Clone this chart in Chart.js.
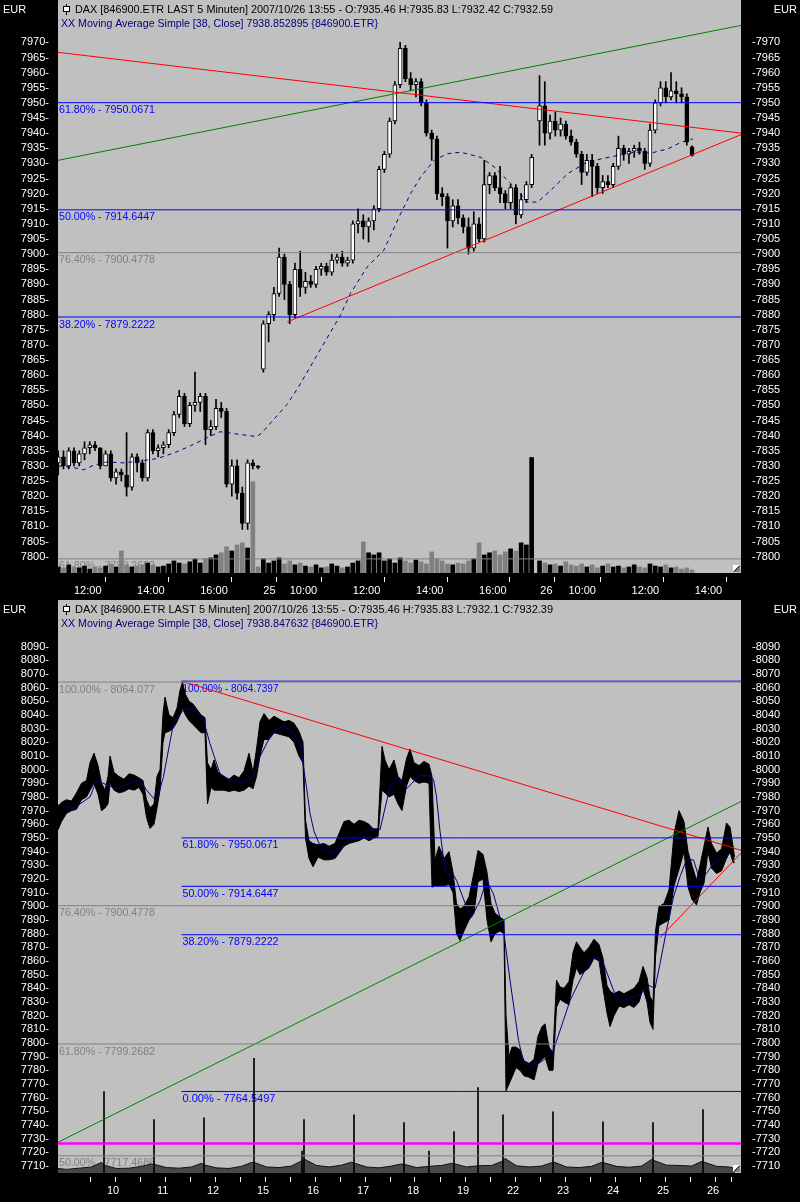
<!DOCTYPE html>
<html>
<head>
<meta charset="utf-8">
<title>DAX 5 Minuten</title>
<script src="https://cdn.jsdelivr.net/npm/chart.js@4.4.1/dist/chart.umd.min.js"></script>
<style>
  html, body { margin: 0; padding: 0; background: #000; }
  canvas { display: block; }
</style>
</head>
<body>
<canvas id="chartTop" width="800" height="600"></canvas>
<canvas id="chartBottom" width="800" height="602"></canvas>
<script>
'use strict'

// ===== Oberes Fenster: 24.10. - 26.10.2007, Kerzen zu je 10 Minuten =====
// x = 5-Minuten-Slot, 0 = 24.10. 12:00
var topSlot = [
  -6, -4, -2, 0, 2, 4, 6, 8, 10, 12, 14, 16, 18, 20, 22, 24, 26, 28, 30, 32, 34, 36, 38, 40, 42, 44, 46, 48, 50, 52, 54, 56, 58, 60, 62, 64, 66, 68, 70,
  72, 74, 76, 78, 80, 82, 84, 86, 88, 90, 92, 94, 96, 98, 100, 102, 104, 106, 108, 110, 112, 114, 116, 118, 120, 122, 124, 126, 128, 130, 132, 134, 136, 138, 140, 142, 144, 146, 148, 150, 152, 154, 156, 158, 160, 162, 164, 166, 168, 170, 172, 174,
  177, 179, 181, 183, 185, 187, 189, 191, 193, 195, 197, 199, 201, 203, 205, 207, 209, 211, 213, 215, 217, 219, 221, 223, 225, 227, 229, 231, 233, 235
]
var topOpen = [
  7831, 7833, 7830, 7835, 7831, 7834, 7836, 7837, 7836, 7830, 7834, 7826, 7828, 7827, 7823, 7833, 7831, 7826, 7841, 7835, 7836, 7837, 7841, 7847, 7853, 7844, 7850, 7851, 7853, 7842, 7843, 7849, 7848, 7824, 7830, 7821, 7811, 7831, 7830,
  7862, 7877, 7880, 7887, 7899, 7890, 7880, 7895, 7889, 7891, 7890, 7895, 7896, 7894, 7898, 7899, 7897, 7898, 7910, 7911, 7909, 7911, 7915, 7928, 7933, 7944, 7956, 7968, 7958, 7956, 7957, 7950, 7940, 7938, 7920, 7919, 7911, 7916, 7912, 7909, 7902, 7910, 7905, 7923, 7926, 7922, 7920, 7917, 7922, 7913, 7918, 7923,
  7944, 7949, 7940, 7944, 7941, 7943, 7939, 7937, 7933, 7927, 7931, 7929, 7922, 7924, 7923, 7929, 7935, 7933, 7934, 7935, 7934, 7930, 7941, 7950, 7955, 7952, 7954, 7953, 7952, 7935.46
]
var topHigh = [
  7835, 7835, 7836, 7836, 7835, 7838, 7838, 7838, 7836, 7835, 7835, 7829, 7829, 7841, 7834, 7834, 7832, 7842, 7842, 7837, 7838, 7842, 7848, 7855, 7854, 7851, 7861, 7854, 7854, 7845, 7852, 7851, 7849, 7832, 7832, 7823, 7832, 7832, 7830,
  7878, 7881, 7889, 7902, 7900, 7891, 7897, 7901, 7894, 7893, 7896, 7897, 7897, 7900, 7900, 7901, 7899, 7911, 7915, 7913, 7912, 7916, 7929, 7934, 7945, 7957, 7970, 7969, 7960, 7958, 7958, 7951, 7941, 7939, 7922, 7920, 7918, 7918, 7913, 7912, 7914, 7912, 7931, 7927, 7927, 7929, 7921, 7923, 7923, 7920, 7924, 7933,
  7959, 7957, 7946, 7947, 7945, 7944, 7941, 7938, 7934, 7933, 7933, 7930, 7926, 7926, 7930, 7939, 7936, 7935, 7936, 7937, 7935, 7943, 7951, 7957, 7957, 7960, 7957, 7955, 7953, 7935.83
]
var topLow = [
  7827, 7829, 7829, 7830, 7830, 7832, 7834, 7835, 7829, 7830, 7825, 7824, 7825, 7820, 7822, 7828, 7825, 7825, 7834, 7833, 7834, 7836, 7840, 7846, 7843, 7843, 7848, 7848, 7837, 7840, 7842, 7846, 7823, 7820, 7819, 7809, 7809, 7829, 7829,
  7861, 7871, 7878, 7886, 7885, 7877, 7879, 7886, 7887, 7889, 7889, 7893, 7893, 7893, 7897, 7896, 7896, 7897, 7907, 7905, 7904, 7908, 7914, 7927, 7932, 7943, 7955, 7957, 7954, 7952, 7949, 7939, 7931, 7918, 7916, 7902, 7909, 7910, 7907, 7900, 7901, 7904, 7904, 7920, 7921, 7917, 7915, 7915, 7910, 7912, 7917, 7922,
  7936, 7936, 7938, 7939, 7939, 7938, 7936, 7932, 7923, 7926, 7919, 7920, 7920, 7922, 7922, 7928, 7931, 7930, 7932, 7933, 7928, 7929, 7940, 7949, 7950, 7951, 7950, 7950, 7936, 7932.42
]
var topClose = [
  7833, 7830, 7835, 7831, 7834, 7836, 7837, 7836, 7830, 7834, 7826, 7828, 7827, 7823, 7833, 7831, 7826, 7841, 7835, 7836, 7837, 7841, 7847, 7853, 7844, 7850, 7851, 7853, 7842, 7843, 7849, 7848, 7824, 7830, 7821, 7811, 7831, 7830, 7829.5,
  7877, 7880, 7887, 7899, 7890, 7880, 7895, 7889, 7891, 7890, 7895, 7896, 7894, 7898, 7899, 7897, 7898, 7910, 7911, 7909, 7911, 7915, 7928, 7933, 7944, 7956, 7968, 7958, 7956, 7957, 7950, 7940, 7938, 7920, 7919, 7911, 7916, 7912, 7909, 7902, 7910, 7905, 7923, 7926, 7922, 7920, 7917, 7922, 7913, 7918, 7923, 7932,
  7949, 7940, 7944, 7941, 7943, 7939, 7937, 7933, 7927, 7931, 7929, 7922, 7924, 7923, 7929, 7935, 7933, 7934, 7935, 7934, 7930, 7941, 7950, 7955, 7952, 7954, 7953, 7952, 7937, 7932.59
]
// Volumen (Tsd.)
var topVolume = [
  2, 1.7, 2.7, 2, 1.7, 2.3, 1.3, 2, 1.7, 2.3, 3, 2, 7.3, 2.7, 2, 2.3, 2.7, 3.3, 2.7, 2, 2.3, 3, 4, 3.3, 3, 3.7, 4.7, 3.3, 4.7, 5, 6, 6.7, 8.7, 7.3, 9.3, 10, 8.3, 30.3, 2,
  4.7, 3.3, 4, 5, 3, 4, 2.7, 3.3, 2.3, 2, 2.7, 1.7, 2, 3, 2.3, 1.7, 2, 3.3, 4, 10.3, 6.7, 6, 6.7, 4, 4.7, 3.3, 5, 4, 3.3, 4.3, 3.7, 3, 7, 4.7, 4, 3, 2.7, 3.3, 3, 4, 4.7, 10, 6, 6.7, 7.3, 6, 7, 8, 7.3, 10, 9.3, 38.3,
  4, 3.3, 2.7, 3, 2.3, 3.7, 2.7, 2.3, 3, 2, 2.7, 1.7, 2.3, 3, 2, 2.3, 1.7, 2, 2.7, 2, 1.7, 3, 2.3, 2, 2.7, 1.7, 2, 1.3, 1.7, 1
]
// Moving Average Simple [38, Close]
var topMaSlot = [-6, -0.3, 3.6, 7.4, 12.4, 18.8, 25, 31.5, 37.8, 44.2, 50.5, 55.6, 63.2, 69.6, 71.5, 76, 81, 84.8, 101.3, 105.1, 111.5, 117.8, 124.2, 128, 131.8, 136.9, 142, 147, 154.7, 159.8, 162.3, 167.4, 172.5, 176.3, 181.3, 187.7, 194, 200.4, 206.7, 213.1, 219.4, 225.8, 230.9, 235.3]
var topMa = [7830, 7829.5, 7828.7, 7830.2, 7831.3, 7831, 7831.6, 7832.4, 7834.2, 7836.6, 7839.3, 7841.3, 7840.4, 7839.7, 7841, 7845.4, 7850.3, 7855.3, 7879.8, 7887, 7895.8, 7901.3, 7913.4, 7920, 7925.5, 7931, 7933.2, 7933.7, 7932, 7928.8, 7926.6, 7922.2, 7917.2, 7917.2, 7921.1, 7926.6, 7929.9, 7931.5, 7932.6, 7933.7, 7933.4, 7934.8, 7937, 7938.1]

var topXRange = [-6.08, 253.6]
var topYRange = [7794.6, 7984]
var topTickSlot = [0, 24, 48, 72, 82, 106, 130, 154, 177.3, 188, 212, 236]
var topTickLabel = ['12:00', '14:00', '16:00', '25', '10:00', '12:00', '14:00', '16:00', '26', '10:00', '12:00', '14:00']
var topPriceTicks = [7800, 7805, 7810, 7815, 7820, 7825, 7830, 7835, 7840, 7845, 7850, 7855, 7860, 7865, 7870, 7875, 7880, 7885, 7890, 7895, 7900, 7905, 7910, 7915, 7920, 7925, 7930, 7935, 7940, 7945, 7950, 7955, 7960, 7965, 7970]

// Fibonacci (aktuelle Welle blau, alte Welle grau)
var topFibBluePct = ['61.80%', '50.00%', '38.20%']
var topFibBlue = [7950.0671, 7914.6447, 7879.2222]
var topFibGrayPct = ['76.40%', '61.80%']
var topFibGray = [7900.4778, 7799.2682]
// Trendlinien [slot, Kurs]
var topRedUpper = [[-6.08, 7966.7], [253.6, 7940]]
var topRedLower = [[81.1, 7877.6], [253.6, 7939.5]]
var topGreen = [[-6.08, 7931], [253.6, 7975.6]]

// ===== Unteres Fenster: 09.10. - 26.10.2007 =====
// x = Handelstag, 0 = 10.10.
var botDay = [
  -0.92, -0.85, -0.75, -0.65, -0.55, -0.45, -0.35, -0.28, -0.20, -0.12, -0.05,
  0.02, 0.08, 0.12, 0.20, 0.30, 0.40, 0.50, 0.60, 0.70, 0.78, 0.85, 0.92,
  1.00, 1.06, 1.12, 1.18, 1.22, 1.30, 1.38, 1.46, 1.52, 1.57, 1.63, 1.70, 1.78, 1.86, 1.94,
  2.02, 2.07, 2.14, 2.20, 2.28, 2.40, 2.50, 2.60, 2.70, 2.80, 2.90, 2.98,
  3.05, 3.12, 3.20, 3.30, 3.40, 3.50, 3.60, 3.70, 3.80, 3.90, 3.98,
  4.03, 4.10, 4.18, 4.28, 4.40, 4.50, 4.62, 4.72, 4.80, 4.90,
  5.00, 5.10, 5.20, 5.30, 5.40, 5.48, 5.56, 5.62, 5.70, 5.80, 5.88, 5.96,
  6.05, 6.12, 6.20, 6.30, 6.40, 6.50, 6.56, 6.62, 6.70, 6.80, 6.90, 6.98,
  7.05, 7.12, 7.20, 7.30, 7.40, 7.48, 7.58, 7.66, 7.74, 7.82, 7.92, 8.00,
  8.04, 8.10, 8.16, 8.24, 8.32, 8.40, 8.50, 8.60, 8.68, 8.76, 8.82, 8.90, 8.98,
  9.05, 9.12, 9.20, 9.30, 9.38, 9.45, 9.52, 9.60, 9.70, 9.80, 9.90, 9.98,
  10.06, 10.12, 10.20, 10.30, 10.40, 10.50, 10.60, 10.70, 10.78, 10.86, 10.92, 10.98,
  11.03, 11.10, 11.20, 11.30, 11.40, 11.50, 11.60, 11.68, 11.76, 11.85, 11.92,
  12.00, 12.08, 12.15, 12.25, 12.35, 12.45, 12.52, 12.58, 12.61
]
var botHigh = [
  7973, 7976, 7978, 7977, 7983, 7990, 7992, 8005, 8012, 8003, 7990,
  7985, 7995, 8010, 7998, 7995, 7993, 7997, 7996, 7994, 7992, 7978, 7972,
  7975, 7995, 8000, 8041, 8053, 8040, 8038, 8045, 8058, 8064, 8055, 8050, 8048, 8044, 8040,
  8038, 8005, 8000, 8007, 7998, 7995, 7993, 7996, 7994, 7999, 8012, 7998,
  8015, 8035, 8041, 8036, 8039, 8037, 8035, 8036, 8034, 8028, 8020,
  7963, 7948, 7946, 7945, 7946, 7944, 7946, 7955, 7962, 7963,
  7960, 7963, 7962, 7960, 7956, 7957, 8017, 8007, 8000, 8007, 7995, 7992,
  8008, 8015, 8005, 8003, 8006, 8004, 7995, 7934, 7944, 7935, 7940, 7925,
  7902, 7898, 7900, 7907, 7925, 7941, 7938, 7925, 7902, 7895, 7892, 7890,
  7820, 7790, 7797, 7797, 7795, 7787, 7785, 7788, 7805, 7812, 7814, 7797, 7793,
  7846, 7841, 7840, 7845, 7866, 7874, 7870, 7866, 7870, 7876, 7872, 7862,
  7842, 7838, 7836, 7838, 7836, 7838, 7840, 7845, 7856, 7848, 7834, 7830,
  7882, 7900, 7902, 7912, 7953, 7970, 7962, 7940, 7930, 7919, 7930,
  7944, 7958, 7946, 7939, 7942, 7961, 7958, 7944, 7936
]
var botLow = [
  7956, 7962, 7968, 7970, 7971, 7978, 7980, 7985, 7990, 7982, 7970,
  7972, 7975, 7990, 7985, 7983, 7984, 7986, 7985, 7987, 7982, 7965, 7957,
  7960, 7972, 7985, 8020, 8027, 8028, 8030, 8035, 8040, 8045, 8040, 8036, 8033, 8030, 8027,
  8027, 7975, 7987, 7985, 7985, 7985, 7984, 7985, 7984, 7985, 7988, 7986,
  7995, 8010, 8022, 8022, 8027, 8026, 8025, 8024, 8020, 8010, 8005,
  7950, 7935, 7929, 7936, 7934, 7934, 7935, 7940, 7944, 7946,
  7947, 7948, 7950, 7948, 7950, 7951, 7985, 7983, 7980, 7982, 7975, 7970,
  7988, 7995, 7992, 7990, 7991, 7990, 7914, 7915, 7915, 7915, 7916, 7910,
  7880, 7875, 7882, 7890, 7895, 7918, 7920, 7890, 7874, 7880, 7882, 7880,
  7765, 7770, 7775, 7782, 7780, 7776, 7775, 7773, 7785, 7788, 7790, 7780, 7780,
  7826, 7832, 7830, 7828, 7846, 7855, 7850, 7852, 7855, 7862, 7860, 7840,
  7822, 7812, 7820, 7827, 7826, 7828, 7826, 7830, 7840, 7830, 7815, 7810,
  7863, 7886, 7888, 7890, 7915, 7927, 7940, 7914, 7905, 7901, 7910,
  7917, 7940, 7928, 7924, 7926, 7935, 7940, 7932, 7932
]
var botMaDay = [-0.92, -0.61, -0.28, -0.15, 0.05, 0.25, 0.45, 0.72, 0.85, 1.05, 1.19, 1.39, 1.59, 1.79, 1.99, 2.12, 2.32, 2.52, 2.79, 2.99, 3.12, 3.39, 3.59, 3.79, 3.92, 4.05, 4.12, 4.20, 4.30, 4.45, 4.59, 4.85, 5.12, 5.39, 5.52, 5.72, 5.92, 6.05, 6.32, 6.52, 6.59, 6.65, 6.72, 6.79, 6.85, 6.99, 7.05, 7.25, 7.35, 7.52, 7.65, 7.79, 7.99, 8.12, 8.29, 8.39, 8.59, 8.79, 8.99, 9.19, 9.32, 9.52, 9.72, 9.85, 9.99, 10.19, 10.32, 10.52, 10.72, 10.89, 11.02, 11.12, 11.25, 11.39, 11.52, 11.65, 11.79, 11.92, 12.05, 12.19, 12.32, 12.52]
var botMa = [7974, 7971.7, 7980, 7992, 7989, 7986, 7989, 7992.4, 7985, 7976.6, 7995, 8034, 8043.7, 8045, 8036, 8019, 7997, 7992, 7990, 7995, 8009.5, 8029, 8031.5, 8026.6, 8019, 7987, 7968, 7955, 7946, 7941, 7938.8, 7947.3, 7953.4, 7957, 7956, 7987.6, 7992.4, 7986, 7996, 7995, 7993, 7980, 7955, 7935, 7924, 7923, 7919, 7899.5, 7892, 7904, 7919, 7909, 7882.5, 7846, 7802, 7786, 7782.6, 7787.4, 7795, 7816.7, 7831, 7846, 7860.5, 7863, 7858, 7838.6, 7830, 7832.5, 7835, 7842.3, 7840, 7858, 7882.5, 7906.8, 7921.7, 7934, 7934, 7919, 7924, 7931.5, 7934, 7939]
// Volumen: Grundrauschen und Auktionsspitzen
var botVolDay = [-0.92, -0.75, -0.5, -0.25, -0.05, 0.02, 0.25, 0.5, 0.75, 0.95, 1.02, 1.25, 1.5, 1.75, 1.95, 2.02, 2.25, 2.5, 2.75, 2.95, 3.02, 3.25, 3.5, 3.75, 3.95, 4.02, 4.25, 4.5, 4.75, 4.95, 5.02, 5.25, 5.5, 5.75, 5.95, 6.02, 6.25, 6.5, 6.75, 6.95, 7.02, 7.25, 7.5, 7.75, 7.95, 8.02, 8.25, 8.5, 8.75, 8.95, 9.02, 9.25, 9.5, 9.75, 9.95, 10.02, 10.25, 10.5, 10.75, 10.95, 11.02, 11.25, 11.5, 11.75, 11.95, 12.02, 12.25, 12.5, 12.62]
var botVol = [1.5, 1.2, 1.6, 2, 3.5, 2.5, 1.5, 1.6, 2.2, 3, 2.8, 1.8, 1.6, 2, 3.2, 2.6, 1.7, 1.5, 2.2, 3.5, 3.4, 2, 1.8, 2.3, 4, 4.5, 2.5, 2, 2.6, 3.6, 3.2, 2, 1.7, 2.3, 3, 2.8, 1.8, 2.2, 2.5, 3.2, 3, 2, 2.4, 2.5, 3.8, 4.8, 2.4, 2, 2.3, 3.4, 3.5, 2, 1.8, 2.2, 3.5, 3.3, 2.2, 1.9, 2.3, 4.5, 4, 2.6, 2.5, 2.3, 3.8, 3.5, 2.2, 2, 1.5]
var botSpikeDay = [0, 1, 2, 3, 3.96, 4, 5, 6, 6.5, 7, 7.48, 7.98, 8.98, 9.98, 10.98, 11.98]
var botSpikeVol = [27, 17.7, 18.3, 38, 7.3, 17.7, 19.3, 16.7, 7.3, 13.7, 28.3, 19.3, 20.3, 17, 16.7, 21]

var botXRange = [-0.92, 12.74]
var botYRange = [7704.9, 8124.1]
var botTickDay = [-0.62, 0.06, 0.38, 1.06, 1.38, 2.06, 2.38, 3.06, 3.38, 4.06, 4.38, 5.06, 5.38, 6.06, 6.38, 7.06, 7.38, 8.06, 8.38, 9.06, 9.38, 10.06, 10.38, 11.06, 11.38, 12.06, 12.38]
var botTickLabel = ['', '10', '', '11', '', '12', '', '15', '', '16', '', '17', '', '18', '', '19', '', '22', '', '23', '', '24', '', '25', '', '26', '']
var botPriceTicks = [7710, 7720, 7730, 7740, 7750, 7760, 7770, 7780, 7790, 7800, 7810, 7820, 7830, 7840, 7850, 7860, 7870, 7880, 7890, 7900, 7910, 7920, 7930, 7940, 7950, 7960, 7970, 7980, 7990, 8000, 8010, 8020, 8030, 8040, 8050, 8060, 8070, 8080, 8090]

var botFibGrayPct = ['100.00%', '76.40%', '61.80%', '50.00%']
var botFibGray = [8064.077, 7900.4778, 7799.2682, 7717.4686]
var botFibBluePct = ['100.00%', '61.80%', '50.00%', '38.20%', '0.00%']
var botFibBlue = [8064.7397, 7950.0671, 7914.6447, 7879.2222, 7764.5497]
var botFibBlueStart = 1.55
var botSupport = 7726.5
var botRedUpper = [[1.55, 8064.7], [12.74, 7941]]
var botRedLower = [[11.12, 7877], [12.74, 7939]]
var botGreen = [[-0.92, 7727.4], [12.74, 7976.7]]

// ===== Helfer =====
var FONT = '"Liberation Sans", Arial, sans-serif'
Chart.defaults.font.family = FONT
Chart.defaults.font.size = 11
Chart.defaults.animation = false

function pts(xs, ys) {
  return xs.map(function (x, i) { return { x: x, y: ys[i] } })
}

function lineSet(points, color, width, dash, order, extra) {
  var ds = {
    type: 'line',
    order: order,
    data: points,
    borderColor: color,
    borderWidth: width,
    borderDash: dash || [],
    pointRadius: 0,
    tension: 0,
    fill: false
  }
  return Object.assign(ds, extra || {})
}

function segment(pair, color, width) {
  return lineSet(pts([pair[0][0], pair[1][0]], [pair[0][1], pair[1][1]]), color, width, null, 0)
}

function fibSets(values, from, to, color) {
  return values.map(function (v) {
    return lineSet(pts([from, to], [v, v]), color, 1, null, 0)
  })
}

function fibLabelItems(pct, values, from, color) {
  return values.map(function (v, i) {
    return { value: v, from: from, text: pct[i] + ' - ' + v, color: color }
  })
}

function candleSets(slot, open, high, low, close, vol) {
  var up = close.map(function (c, i) { return c >= open[i] })
  return [
    {
      type: 'bar', order: 3, grouped: false, barThickness: 1,
      backgroundColor: '#000',
      data: slot.map(function (s, i) { return { x: s, y: [low[i], high[i]] } })
    },
    {
      type: 'bar', order: 2, grouped: false, barThickness: 4, minBarLength: 1,
      borderWidth: 1, borderSkipped: false, borderColor: '#000',
      backgroundColor: up.map(function (u) { return u ? '#fff' : '#000' }),
      data: slot.map(function (s, i) { return { x: s, y: [open[i], close[i]] } })
    },
    {
      type: 'bar', order: 5, yAxisID: 'yv', grouped: false, barThickness: 4,
      backgroundColor: up.map(function (u) { return u ? '#000' : '#808080' }),
      data: slot.map(function (s, i) { return { x: s, y: vol[i] } })
    }
  ]
}

// keine automatischen Randabstände durch die Beschriftung
function noPadding(scale) {
  scale.paddingTop = 0
  scale.paddingBottom = 0
  scale.paddingLeft = 0
  scale.paddingRight = 0
}

function priceAxis(position, range, ticks) {
  return {
    type: 'linear',
    position: position,
    min: range[0],
    max: range[1],
    afterBuildTicks: function (scale) { scale.ticks = ticks.map(function (v) { return { value: v } }) },
    afterFit: function (scale) {
      scale.width = position === 'left' ? 58 : 59
      noPadding(scale)
    },
    grid: { display: false },
    border: { display: false },
    ticks: {
      color: '#fff',
      autoSkip: false,
      padding: position === 'left' ? 1 : 3,
      font: { size: 11 },
      callback: function (v) { return position === 'left' ? v + '-' : '-' + v }
    }
  }
}

function timeAxis(range, tickVals, tickLabels, height) {
  return {
    type: 'linear',
    min: range[0],
    max: range[1],
    offset: false,
    afterBuildTicks: function (scale) { scale.ticks = tickVals.map(function (v) { return { value: v } }) },
    afterFit: function (scale) {
      scale.height = height
      noPadding(scale)
    },
    grid: {
      drawOnChartArea: false,
      drawTicks: true,
      tickLength: 9,
      tickColor: '#fff',
      tickBorderDash: [0, 4, 5, 40]
    },
    border: { display: false },
    ticks: {
      color: '#fff',
      align: 'start',
      padding: 2,
      autoSkip: false,
      maxRotation: 0,
      minRotation: 0,
      font: { size: 11 },
      callback: function (v, i) { return tickLabels[i] }
    }
  }
}

// Hintergrund: schwarzer Rahmen, graue Zeichenfläche
var panelBackground = {
  id: 'panelBackground',
  beforeDraw: function (chart) {
    var ctx = chart.ctx
    var a = chart.chartArea
    ctx.save()
    ctx.fillStyle = '#000'
    ctx.fillRect(0, 0, chart.width, chart.height)
    ctx.fillStyle = '#c0c0c0'
    ctx.fillRect(a.left, a.top, a.right - a.left, a.bottom - a.top)
    ctx.restore()
  }
}

// Beschriftung der Fibonacci-Linien
var fibLabels = {
  id: 'fibLabels',
  beforeDatasetsDraw: function (chart, args, opts) {
    var ctx = chart.ctx
    var xs = chart.scales.x
    var ys = chart.scales.y
    ctx.save()
    ctx.font = '11px ' + FONT
    ctx.textBaseline = 'top'
    ctx.textAlign = 'left'
    opts.items.forEach(function (it) {
      ctx.fillStyle = it.color
      ctx.fillText(it.text, xs.getPixelForValue(it.from) + 1, ys.getPixelForValue(it.value) + 2, 96)
    })
    ctx.restore()
  }
}

// Kopfzeilen, EUR, Symbole
var panelHeader = {
  id: 'panelHeader',
  afterDraw: function (chart, args, opts) {
    var ctx = chart.ctx
    var a = chart.chartArea
    ctx.save()
    ctx.font = '11px ' + FONT
    ctx.textBaseline = 'middle'
    ctx.fillStyle = '#fff'
    ctx.textAlign = 'left'
    ctx.fillText('EUR', 3, 9.5)
    ctx.textAlign = 'right'
    ctx.fillText('EUR', chart.width - 3, 9.5)

    // kleines Kerzen-Symbol
    ctx.strokeStyle = '#000'
    ctx.lineWidth = 1
    ctx.beginPath()
    ctx.moveTo(a.left + 8.5, a.top + 4)
    ctx.lineTo(a.left + 8.5, a.top + 15)
    ctx.stroke()
    ctx.fillStyle = '#fff'
    ctx.fillRect(a.left + 5.5, a.top + 6.5, 6, 5)
    ctx.strokeRect(a.left + 5.5, a.top + 6.5, 6, 5)

    ctx.textAlign = 'left'
    ctx.fillStyle = '#000'
    ctx.fillText(opts.title, a.left + 17, a.top + 9.5, 478)
    ctx.fillStyle = '#000080'
    ctx.fillText(opts.average, a.left + 3, a.top + 24, 317)

    // Symbol unten rechts
    var r = a.right - 8
    var b = a.bottom - 8
    ctx.fillStyle = '#fff'
    ctx.fillRect(r, b, 7, 7)
    ctx.fillStyle = '#808080'
    ctx.beginPath()
    ctx.moveTo(r + 7, b)
    ctx.lineTo(r + 7, b + 7)
    ctx.lineTo(r, b + 7)
    ctx.closePath()
    ctx.fill()
    ctx.strokeStyle = '#000'
    ctx.beginPath()
    ctx.moveTo(r + 1, b + 6.5)
    ctx.lineTo(r + 6.5, b + 1)
    ctx.stroke()
    ctx.restore()
  }
}

function makePanel(canvasId, datasets, xAxis, yRange, yTicks, volMax, labels, header) {
  return new Chart(document.getElementById(canvasId), {
    type: 'bar',
    data: { datasets: datasets },
    plugins: [panelBackground, fibLabels, panelHeader],
    options: {
      responsive: false,
      events: [],
      layout: { padding: 0, autoPadding: false },
      scales: {
        x: xAxis,
        y: priceAxis('left', yRange, yTicks),
        yRight: priceAxis('right', yRange, yTicks),
        yv: { type: 'linear', display: false, min: 0, max: volMax }
      },
      plugins: {
        legend: { display: false },
        tooltip: { enabled: false },
        fibLabels: { items: labels },
        panelHeader: header
      }
    }
  })
}

// ===== Oberes Fenster =====
var topDatasets = []
  .concat(fibSets(topFibBlue, topXRange[0], topXRange[1], '#0000ff'))
  .concat(fibSets(topFibGray, topXRange[0], topXRange[1], '#808080'))
  .concat([
    segment(topRedUpper, '#ff0000', 1),
    segment(topRedLower, '#ff0000', 1),
    segment(topGreen, '#008000', 1),
    lineSet(pts(topMaSlot, topMa), '#000080', 1, [4, 4], 1)
  ])
  .concat(candleSets(topSlot, topOpen, topHigh, topLow, topClose, topVolume))

makePanel('chartTop', topDatasets,
  timeAxis(topXRange, topTickSlot, topTickLabel, 27),
  topYRange, topPriceTicks, 190,
  fibLabelItems(topFibBluePct, topFibBlue, topXRange[0], '#0000ff')
    .concat(fibLabelItems(topFibGrayPct, topFibGray, topXRange[0], '#808080')),
  {
    title: 'DAX [846900.ETR LAST 5 Minuten] 2007/10/26 13:55 - O:7935.46 H:7935.83 L:7932.42 C:7932.59',
    average: 'XX Moving Average Simple [38, Close] 7938.852895 {846900.ETR}'
  })

// ===== Unteres Fenster =====
var botDatasets = [
  lineSet(pts(botDay, botHigh), '#000', 1, null, 3, { fill: '+1', backgroundColor: '#000' }),
  lineSet(pts(botDay, botLow), '#000', 1, null, 3)
]
  .concat(fibSets(botFibGray, botXRange[0], botXRange[1], '#808080'))
  .concat(fibSets(botFibBlue, botFibBlueStart, botXRange[1], '#0000ff'))
  .concat([
    lineSet(pts(botXRange, [botSupport, botSupport]), '#ff00ff', 2.5, null, 0),
    segment(botRedUpper, '#ff0000', 1),
    segment(botRedLower, '#ff0000', 1),
    segment(botGreen, '#008000', 1),
    lineSet(pts(botMaDay, botMa), '#000080', 1, null, 1),
    lineSet(pts(botVolDay, botVol), '#101010', 1, null, 6, { yAxisID: 'yv', fill: 'origin', backgroundColor: '#484848' }),
    {
      type: 'bar', order: 5, yAxisID: 'yv', grouped: false, barThickness: 1,
      backgroundColor: '#000',
      data: pts(botSpikeDay, botSpikeVol)
    }
  ])

makePanel('chartBottom', botDatasets,
  timeAxis(botXRange, botTickDay, botTickLabel, 29),
  botYRange, botPriceTicks, 190,
  fibLabelItems(botFibGrayPct, botFibGray, botXRange[0], '#808080')
    .concat(fibLabelItems(botFibBluePct, botFibBlue, botFibBlueStart, '#0000ff')),
  {
    title: 'DAX [846900.ETR LAST 5 Minuten] 2007/10/26 13:55 - O:7935.46 H:7935.83 L:7932.1 C:7932.39',
    average: 'XX Moving Average Simple [38, Close] 7938.847632 {846900.ETR}'
  })
</script>
</body>
</html>
